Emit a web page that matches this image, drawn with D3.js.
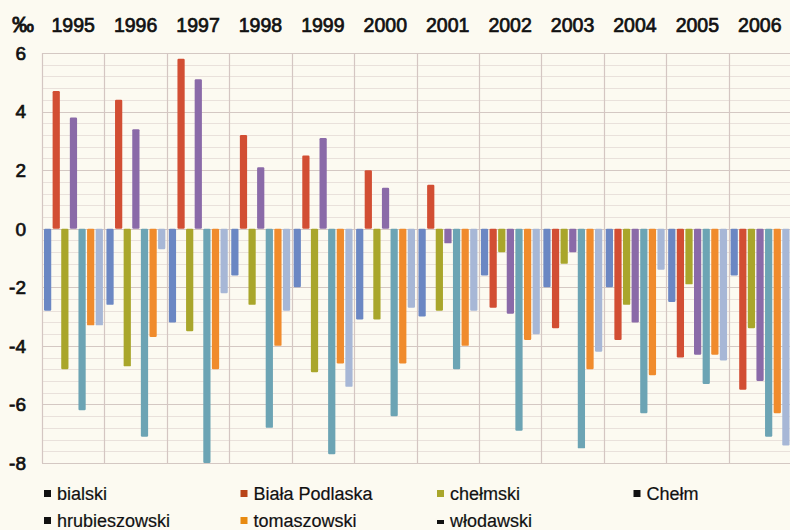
<!DOCTYPE html>
<html>
<head>
<meta charset="utf-8">
<script src="https://cdn.jsdelivr.net/npm/d3@7"></script>
<style>
  html, body { margin: 0; padding: 0; background: #fcfaf1; overflow: hidden; }
  svg { display: block; }
</style>
</head>
<body>
<svg id="chart"></svg>
<script>
// natural increase per 1000 inhabitants, by district, 1995-2006

const years = ["1995", "1996", "1997", "1998", "1999", "2000", "2001", "2002", "2003", "2004", "2005", "2006"];
const seriesNames = ["bialski", "Biała Podlaska", "chełmski", "Chełm", "hrubieszowski", "tomaszowski", "włodawski"];
const barColors = ["#6b87c3", "#d24e33", "#a9a62b", "#8a6aa8", "#6ca4b4", "#f08b2c", "#a7b7d6"];
const legendColors = ["#111", "#b84418", "#a9a62b", "#111", "#111", "#e88a10", "#111"];
const yTicks = [6, 4, 2, 0, -2, -4, -6, -8];

const bialski      = [-2.8, -2.6, -3.2, -1.6, -2.0, -3.1, -3.0, -1.6, -2.0, -2.0, -2.5, -1.6];
const bialaPodl    = [ 4.7,  4.4,  5.8,  3.2,  2.5,  2.0,  1.5, -2.7, -3.4, -3.8, -4.4, -5.5];
const chelmski     = [-4.8, -4.7, -3.5, -2.6, -4.9, -3.1, -2.8, -0.8, -1.2, -2.6, -1.9, -3.4];
const chelm        = [ 3.8,  3.4,  5.1,  2.1,  3.1,  1.4, -0.5, -2.9, -0.8, -3.2, -4.3, -5.2];
const hrubieszowski= [-6.2, -7.1, -8.0, -6.8, -7.7, -6.4, -4.8, -6.9, -7.5, -6.3, -5.3, -7.1];
const tomaszowski  = [-3.3, -3.7, -4.8, -4.0, -4.6, -4.6, -4.0, -3.8, -4.8, -5.0, -4.3, -6.3];
const wlodawski    = [-3.3, -0.7, -2.2, -2.8, -5.4, -2.7, -2.8, -3.6, -4.2, -1.4, -4.5, -7.4];

const seriesValues = [bialski, bialaPodl, chelmski, chelm, hrubieszowski, tomaszowski, wlodawski];

const WIDTH = 790;
const HEIGHT = 530;
const plot = { left: 42, right: 791, top: 53, bottom: 463 };

const svg = d3.select("#chart")
  .attr("width", WIDTH)
  .attr("height", HEIGHT)
  .style("font-family", "'Liberation Sans', Arial, sans-serif");

svg.append("rect")
  .attr("width", WIDTH).attr("height", HEIGHT)
  .attr("fill", "#fcfaf1");

// scales
const x0 = d3.scaleBand()
  .domain(years)
  .range([plot.left, plot.right]);

const x1 = d3.scaleBand()
  .domain(seriesNames)
  .range([2, x0.bandwidth() - 1.5])
  .paddingInner(0.16);

const y = d3.scaleLinear()
  .domain([-8, 6])
  .range([plot.bottom, plot.top]);

// grid: minor lines every 0.4, major every 2
const minor = d3.range(-8, 6.001, 0.4).map(v => +v.toFixed(1));
svg.append("g")
  .selectAll("line")
  .data(minor)
  .join("line")
    .attr("x1", plot.left).attr("x2", plot.right)
    .attr("y1", d => Math.round(y(d)) + 0.5)
    .attr("y2", d => Math.round(y(d)) + 0.5)
    .attr("stroke", d => Math.abs(d % 2) < 1e-6 ? "#d4c8c3" : "#e9e1db")
    .attr("stroke-width", 1);

svg.append("g")
  .selectAll("line")
  .data(years.concat(["end"]))
  .join("line")
    .attr("x1", (d, i) => Math.round(plot.left + i * x0.step()) + 0.5)
    .attr("x2", (d, i) => Math.round(plot.left + i * x0.step()) + 0.5)
    .attr("y1", plot.top).attr("y2", plot.bottom)
    .attr("stroke", "#d4c6c2")
    .attr("stroke-width", 1.2);

// bars
const table = years.map((yr, i) => ({
  year: yr,
  values: seriesNames.map((s, k) => ({ series: s, k, value: seriesValues[k][i] }))
}));

svg.append("g")
  .selectAll("g")
  .data(table)
  .join("g")
    .attr("transform", d => `translate(${x0(d.year)},0)`)
  .selectAll("rect")
  .data(d => d.values)
  .join("rect")
    .attr("x", d => x1(d.series))
    .attr("width", x1.bandwidth())
    .attr("y", d => y(Math.max(0, d.value)))
    .attr("height", d => Math.abs(y(d.value) - y(0)))
    .attr("rx", 1.2)
    .attr("fill", d => barColors[d.k]);

// y tick labels
svg.append("g")
  .selectAll("text")
  .data(yTicks)
  .join("text")
    .attr("x", 26)
    .attr("y", d => y(d))
    .attr("dy", "0.36em")
    .attr("text-anchor", "end")
    .attr("font-size", 19)
    .attr("fill", "#111")
    .attr("stroke", "#111")
    .attr("stroke-width", 0.7)
    .text(d => d);

svg.append("text")
  .attr("x", 12).attr("y", 32)
  .attr("font-size", 22)
  .attr("fill", "#111")
  .attr("stroke", "#111")
  .attr("stroke-width", 0.8)
  .text("‰");

// year labels on top
svg.append("g")
  .selectAll("text")
  .data(years)
  .join("text")
    .attr("x", d => x0(d) + x0.bandwidth() / 2)
    .attr("y", 32)
    .attr("text-anchor", "middle")
    .attr("font-size", 19.5)
    .attr("fill", "#111")
    .attr("stroke", "#111")
    .attr("stroke-width", 0.7)
    .text(d => d);

// legend, four per row
const legend = svg.append("g")
  .selectAll("g")
  .data(seriesNames)
  .join("g")
    .attr("transform", (d, i) => `translate(${44 + (i % 4) * 196.5},${500 + Math.floor(i / 4) * 27})`);

legend.append("rect")
  .attr("x", 0).attr("y", (d, i) => i === 6 ? -7 : -10)
  .attr("width", 7).attr("height", (d, i) => i === 6 ? 4 : 7)
  .attr("fill", (d, i) => legendColors[i]);

legend.append("text")
  .attr("x", 13).attr("y", 0)
  .attr("font-size", 18)
  .attr("fill", "#111")
  .attr("stroke", "#111")
  .attr("stroke-width", 0.2)
  .text(d => d);
</script>
</body>
</html>
